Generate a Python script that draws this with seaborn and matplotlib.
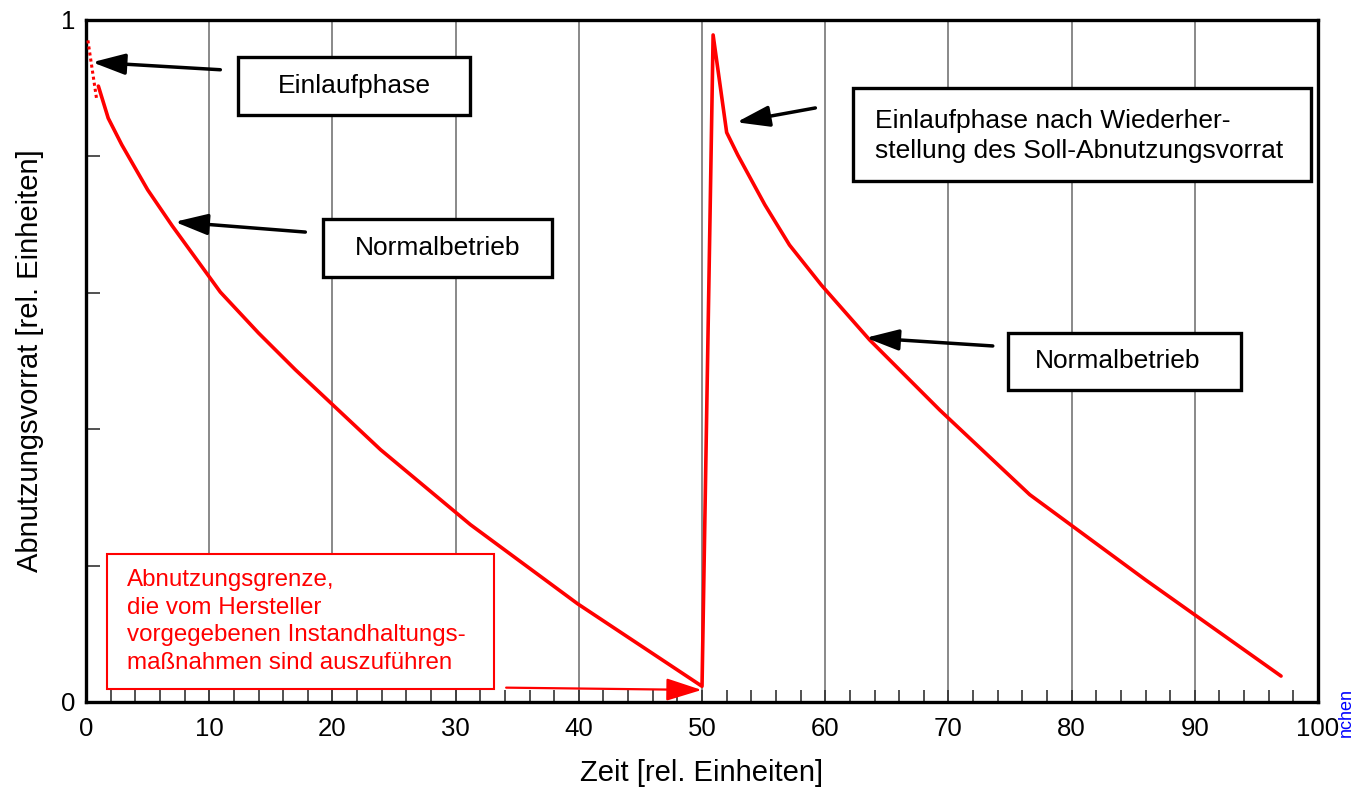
import numpy as np
import matplotlib
matplotlib.use("Agg")
import matplotlib.pyplot as plt
import seaborn as sns
from matplotlib.patches import Rectangle
from matplotlib.ticker import MultipleLocator

# Einlaufphase (gepunktet)
einlauf_x = [0.15, 0.85]
einlauf_y = [0.970, 0.885]

# Abnutzungsvorrat ueber der Zeit
zeit = [1.0, 1.8, 2.9, 5.0, 7.0, 10.9, 14.0, 17.0, 23.9, 31.2, 39.9, 50.0,
        50.9, 52.0, 52.9, 55.1, 57.1, 59.7, 63.6, 69.3, 76.6, 86.0, 97.0]
vorrat = [0.903, 0.856, 0.817, 0.751, 0.698, 0.601, 0.541, 0.487, 0.370, 0.260, 0.144, 0.023,
          0.978, 0.835, 0.802, 0.729, 0.670, 0.611, 0.531, 0.428, 0.304, 0.179, 0.038]

x_ticks = list(range(0, 101, 10))
y_ticks = [0, 0.2, 0.4, 0.6, 0.8, 1.0]
y_ticklabels = ["0", "", "", "", "", "1"]

sns.set_theme(style="white")
plt.rcParams['font.family'] = ['Liberation Sans', 'DejaVu Sans']
plt.rcParams['text.color'] = 'black'
plt.rcParams['axes.labelcolor'] = 'black'
plt.rcParams['xtick.labelcolor'] = 'black'
plt.rcParams['ytick.labelcolor'] = 'black'

fig = plt.figure(figsize=(13.55, 7.89), dpi=100)
ax = fig.add_axes([0.0635, 0.1103, 0.9092, 0.8644])

sns.lineplot(x=einlauf_x, y=einlauf_y, ax=ax, color="red", lw=2.2, linestyle=(0, (1, 1)), zorder=4)
sns.lineplot(x=zeit, y=vorrat, ax=ax, color="red", lw=2.6, zorder=4)

ax.set_xlim(0, 100)
ax.set_ylim(0, 1)
ax.set_xticks(x_ticks)
ax.set_xticklabels([str(t) for t in x_ticks], fontsize=18.5)
ax.xaxis.set_minor_locator(MultipleLocator(2))
ax.set_yticks(y_ticks)
ax.set_yticklabels(y_ticklabels, fontsize=18.5)
ax.tick_params(axis="x", which="both", direction="in", length=9, width=1.2, color="#333333", pad=11, bottom=True)
ax.tick_params(axis="y", direction="in", length=10, width=1.2, color="#333333", pad=8, left=True)

ax.xaxis.grid(True, color="#808080", lw=1.3, zorder=1)
ax.yaxis.grid(False)
ax.set_axisbelow(True)
for s in ax.spines.values():
    s.set_linewidth(2.4)
    s.set_color("black")

ax.set_xlabel("Zeit [rel. Einheiten]", fontsize=21, labelpad=13)
ax.set_ylabel("Abnutzungsvorrat [rel. Einheiten]", fontsize=21, labelpad=12)

# Textkaesten
def kasten(x0, x1, y0, y1, color="black"):
    ax.add_patch(Rectangle((x0, y0), x1 - x0, y1 - y0, facecolor="white",
                           edgecolor=color, lw=2.4 if color == "black" else 1.5, zorder=5))

def pfeil(tail, head, color="black", lw=2.5, hl=1.0, hw=0.32):
    ax.annotate("", xy=head, xytext=tail, zorder=6,
                arrowprops=dict(arrowstyle=f"-|>,head_length={hl},head_width={hw}",
                                mutation_scale=20, color=color, lw=lw,
                                shrinkA=0, shrinkB=0))

kasten(12.34, 31.17, 0.861, 0.946)
ax.text(21.75, 0.903, "Einlaufphase", fontsize=19, ha="center", va="center", zorder=6)
pfeil((10.9, 0.927), (0.5, 0.938))

kasten(19.24, 37.82, 0.623, 0.708)
ax.text(28.5, 0.666, "Normalbetrieb", fontsize=19, ha="center", va="center", zorder=6)
pfeil((17.8, 0.689), (7.2, 0.704))

kasten(62.26, 99.43, 0.764, 0.900)
ax.text(64.0, 0.830, "Einlaufphase nach Wiederher-\nstellung des Soll-Abnutzungsvorrat",
        fontsize=19, ha="left", va="center", linespacing=1.3, zorder=6)
pfeil((59.2, 0.871), (52.8, 0.850))

kasten(74.84, 93.75, 0.458, 0.541)
ax.text(83.7, 0.500, "Normalbetrieb", fontsize=19, ha="center", va="center", zorder=6)
pfeil((73.6, 0.522), (63.3, 0.534))

kasten(1.70, 33.12, 0.019, 0.217, color="red")
ax.text(3.3, 0.118, "Abnutzungsgrenze,\ndie vom Hersteller\nvorgegebenen Instandhaltungs-\nmaßnahmen sind auszuführen",
        fontsize=17.4, color="red", ha="left", va="center", linespacing=1.32, zorder=6)
pfeil((34.1, 0.021), (49.97, 0.0176), color="red", lw=1.6, hl=1.1, hw=0.35)

# Randtext rechts unten
fig.text(0.9995, 1 - 688 / 789, "nchen", rotation=90, ha="right", va="top",
         fontsize=13, color="blue")

fig.savefig("out.png", dpi=100)
